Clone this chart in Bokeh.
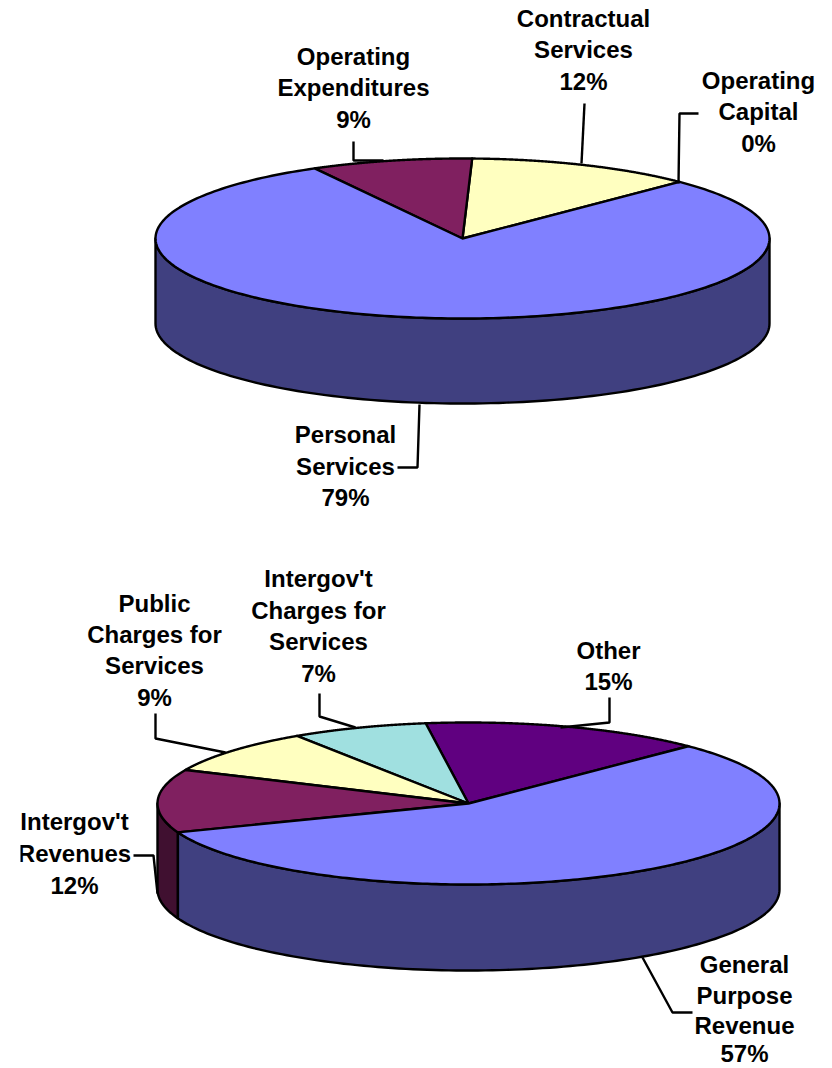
import numpy as np
from bokeh.plotting import figure
from bokeh.core.properties import value
from bokeh.embed import file_html
from bokeh.resources import INLINE

# ---- data ----
top_categories = ["Operating Capital", "Contractual Services", "Operating Expenditures", "Personal Services"]
top_shares = [0, 12.0, 8.5, 79.5]
top_colors = ["#FF80FF", "#FFFFC0", "#802060", "#8080FF"]
top_sides = ["#804080", "#808060", "#401030", "#404080"]

bottom_categories = ["Other", "Intergov't Charges for Services", "Public Charges for Services",
                     "Intergov't Revenues", "General Purpose Revenue"]
bottom_shares = [14.7, 7.1, 8.9, 12.6, 56.7]
bottom_colors = ["#600080", "#A0E0E0", "#FFFFC0", "#802060", "#8080FF"]
bottom_sides = ["#300040", "#507070", "#808060", "#401030", "#404080"]

top_labels = [
    (["Operating", "Capital", "0%"], 758, [80, 111, 143]),
    (["Contractual", "Services", "12%"], 583, [18, 49, 81]),
    (["Operating", "Expenditures", "9%"], 353, [56, 87, 119]),
    (["Personal", "Services", "79%"], 345, [434, 466, 497]),
]
bottom_labels = [
    (["Other", "15%"], 608, [650, 681]),
    (["Intergov't", "Charges for", "Services", "7%"], 318, [578, 610, 641, 673]),
    (["Public", "Charges for", "Services", "9%"], 154, [603, 634, 665, 697]),
    (["Intergov't", "Revenues", "12%"], 74, [821, 853, 885]),
    (["General", "Purpose", "Revenue", "57%"], 744, [964, 995, 1025, 1053]),
]
leaders = [
    ([678, 679, 698], [183, 113, 113]),
    ([581, 584], [163, 103]),
    ([383, 353, 353], [160, 160, 141]),
    ([419, 417, 397], [404, 467, 467]),
    ([560, 609, 609], [727, 722, 697]),
    ([355, 319, 319], [727, 716, 693]),
    ([225, 155, 155], [752, 738, 713]),
    ([157, 153, 133], [893, 855, 855]),
    ([642, 672, 692], [957, 1012, 1012]),
]

p = figure(width=832, height=1068, x_range=(0, 832), y_range=(1068, 0),
           output_backend="svg", toolbar_location=None, min_border=0)
p.axis.visible = False
p.grid.visible = False
p.outline_line_color = None
p.background_fill_color = "white"
LW = 2.4


def pie3d(shares, colors, sides, cx, cy, rx, ry, depth, start=45.0):
    edges = start + np.cumsum([0] + list(shares)) * 3.6
    # wall
    for a0, a1, side in zip(edges[:-1], edges[1:], sides):
        for base in (0, 360):
            lo, hi = max(a0, 180 + base), min(a1, 360 + base)
            if hi > lo:
                t = np.radians(np.linspace(lo, hi, 120))
                xs = cx + rx * np.cos(t)
                ys = cy - ry * np.sin(t)
                p.patch(np.r_[xs, xs[::-1]], np.r_[ys, ys[::-1] + depth],
                        fill_color=side, line_color="black", line_width=LW, line_join="round")
    # top
    for a0, a1, col in zip(edges[:-1], edges[1:], colors):
        if a1 <= a0:
            continue
        t = np.radians(np.linspace(a0, a1, 240))
        p.patch(np.r_[cx, cx + rx * np.cos(t)], np.r_[cy, cy - ry * np.sin(t)],
                fill_color=col, line_color="black", line_width=LW, line_join="round")


pie3d(top_shares, top_colors, top_sides, 462, 238, 307, 80, 85)
pie3d(bottom_shares, bottom_colors, bottom_sides, 468, 803, 311, 81, 86)

for xs, ys in leaders:
    p.line(xs, ys, line_color="black", line_width=LW)

for lines, x, ys in top_labels + bottom_labels:
    p.text([x] * len(lines), ys, text=lines, text_font=value("Liberation Sans"),
           text_font_style="bold", text_font_size="24px", text_color="black",
           text_align="center", text_baseline="middle")

# the original's frame cuts the leftmost label
p.quad(left=[0], right=[20], top=[820], bottom=[870], fill_color="white", line_color=None)

open("out.html", "w").write(file_html(p, INLINE))
